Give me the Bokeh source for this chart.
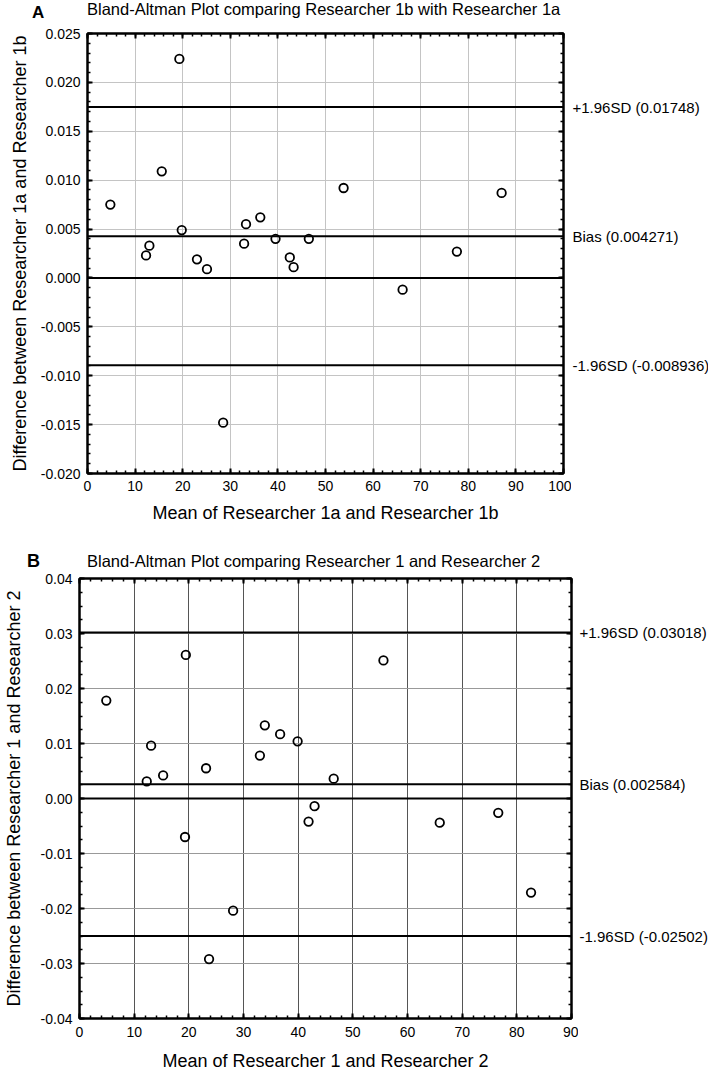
from bokeh.plotting import figure
from bokeh.models import (Range1d, LinearAxis, SingleIntervalTicker, PrintfTickFormatter,
                          CustomJSTickFormatter, Span, Div)
from bokeh.layouts import column, row
from bokeh.core.properties import value
from bokeh.embed import file_html
from bokeh.resources import INLINE

FONT = "Liberation Sans"

# ---------------- Panel A data ----------------
a_letter = "A"
a_title = "Bland-Altman Plot comparing Researcher 1b with Researcher 1a"
a_xlabel = "Mean of Researcher 1a and Researcher 1b"
a_ylabel = "Difference between Researcher 1a and Researcher 1b"
a_mean = [4.8, 12.3, 13.0, 15.6, 19.3, 19.8, 23.0, 25.1, 28.5, 32.9,
          33.3, 36.3, 39.5, 42.5, 43.3, 46.5, 53.8, 66.2, 77.6, 87.0]
a_diff = [0.0075, 0.0023, 0.0033, 0.0109, 0.0224, 0.0049, 0.0019, 0.0009, -0.0148, 0.0035,
          0.0055, 0.0062, 0.0040, 0.0021, 0.0011, 0.0040, 0.0092, -0.0012, 0.0027, 0.0087]
a_lines = [0.01748, 0.004271, -0.008936]
a_line_labels = ["+1.96SD (0.01748)", "Bias (0.004271)", "-1.96SD (-0.008936)"]
a_xrange = (0, 100)
a_yrange = (-0.020, 0.025)

# ---------------- Panel B data ----------------
b_letter = "B"
b_title = "Bland-Altman Plot comparing Researcher 1 and Researcher 2"
b_xlabel = "Mean of Researcher 1 and Researcher 2"
b_ylabel = "Difference between Researcher 1 and Researcher 2"
b_mean = [4.9, 12.3, 13.1, 15.3, 19.3, 19.45, 23.15, 23.7, 28.1, 33.0,
          33.9, 36.7, 39.9, 41.9, 43.0, 46.5, 55.6, 65.9, 76.6, 82.6]
b_diff = [0.0178, 0.0031, 0.0096, 0.0042, -0.0070, 0.0261, 0.0055, -0.0292, -0.0204, 0.0078,
          0.0133, 0.0117, 0.0104, -0.0042, -0.0014, 0.0036, 0.0251, -0.0044, -0.0026, -0.0171]
b_lines = [0.03018, 0.002584, -0.02502]
b_line_labels = ["+1.96SD (0.03018)", "Bias (0.002584)", "-1.96SD (-0.02502)"]
b_xrange = (0, 90)
b_yrange = (-0.04, 0.04)


def style_axis(ax, labels=True):
    ax.axis_line_color = "black"
    ax.axis_line_width = 2
    ax.major_tick_in = 5
    ax.major_tick_out = 0
    ax.minor_tick_in = 3
    ax.minor_tick_out = 0
    ax.major_tick_line_width = 2
    ax.minor_tick_line_width = 1.5
    ax.major_tick_line_color = "black"
    ax.minor_tick_line_color = "black"
    ax.major_label_text_font = FONT
    ax.major_label_text_font_size = "14px"
    ax.major_label_text_color = "black"
    ax.axis_label_text_font = FONT
    ax.axis_label_text_font_size = "18px"
    ax.axis_label_text_font_style = "normal"
    ax.axis_label_text_color = "black"
    if not labels:
        ax.formatter = CustomJSTickFormatter(code="return ''")
        ax.major_label_text_font_size = "0px"
        ax.major_label_standoff = 0


def make_panel(xlabel, ylabel, xs, ys, lines, line_labels, xr, yr,
               xstep, xminor, ystep, yminor, yfmt, gx_color, gy_color,
               width, height, bl, br, bt, bb,
               ylab_standoff, ytick_standoff, xlab_standoff, xtick_standoff, side_width):
    p = figure(width=width, height=height, x_range=Range1d(*xr), y_range=Range1d(*yr),
               output_backend="svg", toolbar_location=None,
               min_border_left=bl, min_border_right=br, min_border_top=bt, min_border_bottom=bb)
    p.background_fill_color = "white"
    p.border_fill_color = "white"
    p.outline_line_color = "black"
    p.outline_line_width = 2

    xa = p.xaxis[0]
    ya = p.yaxis[0]
    xa.ticker = SingleIntervalTicker(interval=xstep, num_minor_ticks=xminor)
    ya.ticker = SingleIntervalTicker(interval=ystep, num_minor_ticks=yminor)
    ya.formatter = PrintfTickFormatter(format=yfmt)
    xa.axis_label = xlabel
    ya.axis_label = ylabel
    style_axis(xa)
    style_axis(ya)
    ya.major_label_standoff = ytick_standoff
    ya.axis_label_standoff = ylab_standoff
    xa.major_label_standoff = xtick_standoff
    xa.axis_label_standoff = xlab_standoff

    top = LinearAxis(ticker=SingleIntervalTicker(interval=xstep, num_minor_ticks=xminor))
    style_axis(top, labels=False)
    p.add_layout(top, "above")
    right = LinearAxis(ticker=SingleIntervalTicker(interval=ystep, num_minor_ticks=yminor))
    style_axis(right, labels=False)
    p.add_layout(right, "right")

    p.xgrid.grid_line_color = gx_color
    p.ygrid.grid_line_color = gy_color
    p.xgrid.grid_line_width = 1
    p.ygrid.grid_line_width = 1

    p.add_layout(Span(location=0, dimension="width", line_color="black", line_width=2))
    for val in lines:
        p.add_layout(Span(location=val, dimension="width", line_color="black", line_width=2))

    p.scatter(xs, ys, marker="circle", size=8.5, fill_color=None,
              line_color="black", line_width=1.8)

    # side panel holding the line annotations, sharing the y scale
    s = figure(width=side_width, height=height, x_range=Range1d(0, 1), y_range=p.y_range,
               x_axis_type=None, y_axis_type=None, output_backend="svg", toolbar_location=None,
               min_border_left=0, min_border_right=0, min_border_top=bt, min_border_bottom=bb)
    s.outline_line_color = None
    s.background_fill_color = "white"
    s.border_fill_color = "white"
    s.grid.visible = False
    s.text(x=[s.x_range.start] * len(lines), y=lines, text=line_labels,
           text_font=value(FONT), text_font_size=value("15px"), text_color="black",
           text_baseline="middle", text_align="left", x_offset=1)
    return row(p, s, spacing=0)


def header(letter, title, width, height, letter_x, letter_top, letter_size,
           title_x, title_top, title_size):
    html = (
        f'<div style="position:relative;width:{width}px;height:{height}px;'
        f'font-family:\'{FONT}\';color:black;">'
        f'<span style="position:absolute;left:{letter_x}px;top:{letter_top}px;'
        f'font-size:{letter_size}px;line-height:1;font-weight:bold;white-space:nowrap;">{letter}</span>'
        f'<span style="position:absolute;left:{title_x}px;top:{title_top}px;'
        f'font-size:{title_size}px;line-height:1;white-space:nowrap;">{title}</span>'
        f'</div>'
    )
    return Div(text=html, width=width, height=height, margin=(0, 0, 0, 0))


hA = header(a_letter, a_title, 708, 26, 32, 4, 17, 87, 1, 16.5)
pA = make_panel(a_xlabel, a_ylabel, a_mean, a_diff, a_lines, a_line_labels,
                a_xrange, a_yrange, 10, 5, 0.005, 5, "%.3f", "#c4c4c4", "#c4c4c4",
                571, 509, 87, 8, 7, 62,
                8, 7, 9, 7, 137)
hB = header(b_letter, b_title, 708, 37, 27, 17, 18, 87, 18, 16.5)
pB = make_panel(b_xlabel, b_ylabel, b_mean, b_diff, b_lines, b_line_labels,
                b_xrange, b_yrange, 10, 5, 0.01, 4, "%.2f", "#555555", "#999999",
                578, 502, 77, 7, 6, 56,
                14, 7, 11, 8, 130)

layout = column(hA, pA, hB, pB, spacing=0)
open("out.html", "w").write(file_html(layout, INLINE))
